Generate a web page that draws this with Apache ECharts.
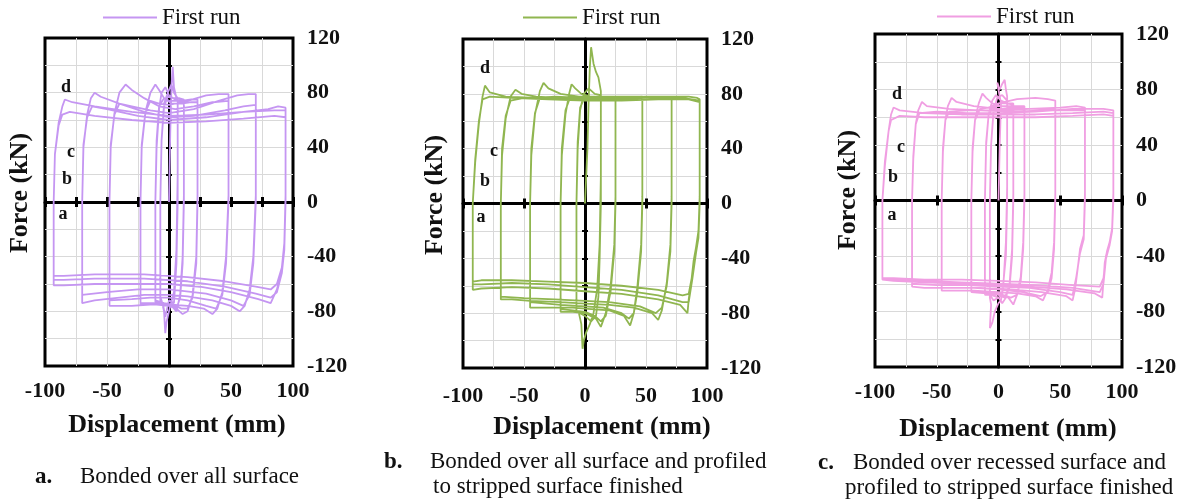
<!DOCTYPE html>
<html>
<head>
<meta charset="utf-8">
<script src="https://cdn.jsdelivr.net/npm/echarts@6/dist/echarts.min.js"></script>
<style>
html,body{margin:0;padding:0;background:#fff;}
#main{width:1182px;height:503px;}
</style>
</head>
<body>
<div id="main"></div>
<script>
// displacement (mm), force (kN) - one array per amplitude step
var runA = [
    // centre
    [[0,0],[1,50],[2,85],[3,99],[4,84],[6,76],[7,74],[7,20],[6,-35],[4,-66],[1,-76],[-2,-88],[-3,-96],[-4,-80],[-6,-72],[-7,-70],[-7,0],[-6,45],[-4,72],[-1,80],[2,86],[4,80],[7,76],[7,0],[6,-45],[4,-74],[0,-72],[-3,-84],[-5,-74],[-7,-72],[-7,0]],
    // 12 mm
    [[-6,45],[-4,70],[-1,77],[4,76],[8,76],[12,75],[12,5],[11,-40],[9,-68],[6,-80],[3,-77],[0,-75],[-6,-74],[-11,-73],[-11,0],[-10,40],[-8,68],[-6,80],[-3,84],[0,78],[5,75],[12,74],[12,0],[11,-45],[9,-70],[6,-78],[2,-75],[-4,-74],[-11,-72],[-11,0],[-10,45],[-8,70],[-4,76]],
    // 23 mm
    [[0,74],[10,74],[18,75],[23,75],[23,5],[22,-40],[19,-68],[15,-80],[11,-82],[6,-78],[0,-76],[-10,-75],[-18,-75],[-23,-75],[-23,0],[-22,40],[-19,66],[-15,80],[-11,86],[-8,82],[-4,76],[2,72],[10,72],[18,73],[23,73],[23,0],[22,-45],[19,-70],[15,-78],[10,-78],[3,-75],[-8,-74],[-17,-74],[-23,-74],[-23,0],[-22,42],[-19,66],[-15,74],[-8,72]],
    // 48 mm
    [[0,71],[15,74],[30,78],[40,79],[48,79],[48,5],[46,-40],[43,-66],[39,-78],[35,-82],[28,-78],[15,-76],[0,-75],[-15,-75],[-30,-76],[-42,-76],[-48,-76],[-48,0],[-47,40],[-44,65],[-40,80],[-35,86],[-30,82],[-20,76],[-8,70],[5,68],[20,70],[35,73],[48,74],[48,0],[46,-45],[43,-68],[38,-78],[30,-76],[15,-72],[0,-70],[-15,-70],[-30,-71],[-48,-72],[-48,0],[-47,42],[-44,64],[-40,72],[-30,70],[-15,67]],
    // 70 mm
    [[0,65],[20,68],[40,74],[55,78],[64,79],[70,79],[70,5],[68,-40],[65,-64],[61,-76],[57,-80],[50,-76],[35,-72],[15,-69],[0,-68],[-20,-68],[-40,-70],[-60,-72],[-70,-74],[-70,0],[-69,40],[-66,64],[-63,76],[-60,80],[-55,77],[-40,72],[-20,66],[0,62],[20,63],[45,67],[60,70],[70,71],[70,0],[68,-45],[65,-68],[60,-76],[50,-72],[30,-67],[0,-64],[-25,-64],[-50,-66],[-70,-68],[-70,0],[-69,42],[-66,62],[-62,70],[-50,68],[-25,63]],
    // 93 mm
    [[0,60],[30,62],[60,66],[80,68],[88,70],[94,69],[94,5],[93,-30],[91,-50],[87,-64],[82,-74],[72,-71],[50,-66],[25,-62],[0,-60],[-30,-60],[-60,-60],[-85,-61],[-93,-61],[-93,0],[-92,35],[-89,58],[-86,70],[-84,75],[-78,73],[-60,70],[-30,66],[0,63],[30,64],[60,66],[85,67],[94,67],[94,0],[93,-35],[91,-52],[87,-66],[82,-70],[70,-67],[45,-62],[15,-58],[-20,-56],[-60,-56],[-85,-57],[-93,-57],[-93,0],[-92,35],[-89,56],[-86,64],[-80,66],[-60,63],[-30,60],[0,58],[30,59],[60,61],[85,63],[94,62],[94,0],[93,-30],[91,-48],[87,-60],[82,-64],[70,-62],[45,-58],[15,-55],[-20,-53],[-60,-53],[-85,-54],[-93,-54],[-93,0]]
];

var runB = [
    [[0,0],[2,40],[3,75],[4,100],[5,114],[7,102],[9,96],[11,92],[13,82],[13,20],[12,-30],[10,-62],[7,-80],[4,-88],[1,-94],[-1,-100],[-2,-106],[-3,-88],[-5,-80],[-7,-78],[-7,0],[-6,40],[-4,68],[-1,80],[3,84],[8,80],[13,79],[13,0],[12,-40],[11,-68],[9,-82],[5,-86],[0,-82],[-4,-80],[-7,-79],[-7,0],[-6,45],[-4,70],[0,78]],
    [[8,78],[16,78],[25,78],[25,5],[24,-30],[21,-60],[17,-80],[13,-90],[9,-84],[0,-80],[-10,-79],[-20,-79],[-20,0],[-19,35],[-16,65],[-13,80],[-11,87],[-8,84],[-3,80],[5,78],[15,77],[25,77],[25,0],[24,-35],[21,-64],[17,-82],[13,-86],[8,-82],[0,-79],[-10,-78],[-20,-77],[-20,0],[-19,40],[-16,68],[-12,78],[-5,78]],
    [[5,78],[20,78],[35,78],[47,78],[47,5],[46,-30],[43,-60],[40,-80],[37,-89],[32,-82],[20,-78],[5,-77],[-10,-76],[-30,-76],[-45,-76],[-45,0],[-44,35],[-41,65],[-37,82],[-34,88],[-30,84],[-20,80],[-5,78],[10,77],[30,77],[47,77],[47,0],[46,-35],[43,-64],[40,-80],[36,-84],[30,-80],[15,-76],[0,-75],[-20,-74],[-45,-72],[-45,0],[-44,40],[-41,66],[-37,77],[-25,78]],
    [[0,77],[25,77],[50,78],[65,78],[71,78],[71,5],[70,-30],[67,-58],[63,-78],[60,-85],[55,-80],[40,-76],[20,-74],[0,-73],[-20,-72],[-45,-71],[-60,-70],[-69,-70],[-69,0],[-68,35],[-65,62],[-61,78],[-57,83],[-52,80],[-40,78],[-20,77],[0,76],[25,76],[50,77],[71,77],[71,0],[70,-35],[67,-60],[63,-76],[58,-80],[45,-75],[20,-72],[0,-71],[-25,-70],[-50,-69],[-69,-68],[-69,0],[-68,40],[-65,64],[-61,75],[-50,77],[-25,76]],
    [[0,76],[30,77],[60,78],[85,78],[92,77],[94,76],[94,5],[93,-20],[91,-32],[89,-42],[87,-58],[85,-70],[84,-80],[78,-74],[60,-70],[30,-66],[0,-64],[-30,-62],[-60,-61],[-85,-62],[-92,-63],[-92,0],[-90,30],[-87,58],[-84,78],[-82,86],[-78,81],[-65,78],[-40,77],[-10,76],[20,76],[50,77],[80,77],[94,75],[94,0],[93,-25],[91,-36],[88,-55],[85,-72],[80,-72],[60,-67],[30,-63],[0,-61],[-30,-59],[-60,-58],[-85,-59],[-92,-59],[-92,0],[-90,32],[-87,60],[-84,76],[-78,78],[-60,77],[-30,76],[0,75],[30,75],[60,76],[85,76],[94,74],[94,0],[93,-22],[91,-34],[88,-52],[85,-66],[80,-67],[60,-63],[30,-60],[0,-58],[-30,-57],[-60,-56],[-85,-56],[-92,-57],[-92,0]]
];

var runC = [
    [[0,0],[1,40],[2,70],[-1,85],[1,80],[3,84],[5,87],[6,80],[7,75],[7,10],[6,-30],[4,-60],[2,-72],[0,-74],[-3,-80],[-5,-88],[-7,-92],[-6,-75],[-7,-70],[-7,0],[-6,40],[-4,65],[-1,74],[3,76],[7,72],[7,0],[6,-40],[3,-68],[0,-70],[-4,-72],[-7,-68],[-7,0]],
    [[-6,40],[-4,64],[0,70],[5,70],[12,70],[12,5],[11,-35],[9,-60],[6,-70],[3,-74],[0,-70],[-6,-68],[-11,-68],[-11,0],[-10,40],[-8,62],[-5,72],[-2,76],[2,72],[7,70],[12,69],[12,0],[11,-40],[9,-62],[5,-70],[0,-68],[-6,-67],[-11,-66],[-11,0],[-10,42],[-8,62],[-4,68]],
    [[2,68],[12,68],[21,68],[21,5],[20,-30],[18,-55],[15,-68],[12,-75],[8,-70],[0,-68],[-10,-67],[-22,-66],[-22,0],[-21,35],[-19,58],[-16,70],[-13,77],[-10,74],[-5,70],[2,68],[12,67],[21,67],[21,0],[20,-35],[18,-58],[15,-68],[10,-70],[0,-67],[-10,-66],[-22,-65],[-22,0],[-21,38],[-19,58],[-15,66],[-8,67]],
    [[0,70],[15,73],[30,74],[40,73],[46,72],[46,5],[45,-30],[43,-52],[40,-64],[36,-72],[30,-69],[15,-67],[0,-66],[-20,-65],[-38,-65],[-46,-65],[-46,0],[-45,35],[-43,58],[-41,68],[-38,74],[-34,71],[-20,68],[0,66],[20,66],[35,66],[46,66],[46,0],[45,-35],[43,-56],[40,-66],[34,-69],[20,-66],[0,-64],[-20,-63],[-46,-63],[-46,0],[-45,38],[-43,58],[-40,64],[-25,65]],
    [[0,65],[25,66],[50,67],[63,68],[70,67],[70,5],[69,-25],[66,-35],[64,-50],[62,-64],[60,-72],[55,-69],[35,-66],[10,-64],[-15,-63],[-40,-63],[-60,-63],[-70,-62],[-70,0],[-69,30],[-67,55],[-65,65],[-62,71],[-58,68],[-40,66],[-15,65],[10,64],[40,65],[70,65],[70,0],[69,-28],[66,-38],[63,-55],[60,-68],[50,-66],[25,-63],[0,-62],[-25,-61],[-50,-61],[-70,-60],[-70,0],[-69,32],[-67,55],[-64,63],[-50,64],[-25,63]],
    [[0,63],[30,64],[60,66],[85,66],[93,65],[93,5],[92,-20],[90,-30],[88,-36],[86,-45],[85,-58],[84,-70],[78,-67],[55,-64],[25,-62],[0,-61],[-30,-60],[-60,-59],[-85,-58],[-94,-57],[-94,0],[-92,25],[-89,50],[-87,62],[-85,67],[-80,65],[-60,63],[-30,62],[0,62],[30,62],[60,63],[85,64],[93,63],[93,0],[92,-22],[90,-32],[87,-42],[85,-60],[82,-66],[60,-63],[30,-61],[0,-60],[-30,-59],[-60,-58],[-85,-57],[-94,-56],[-94,0],[-92,28],[-89,50],[-87,58],[-80,61],[-60,60],[-30,60],[0,60],[30,60],[60,61],[85,62],[93,61],[93,0],[92,-20],[90,-30],[87,-40],[85,-56],[82,-62],[60,-61],[30,-59],[0,-58],[-30,-57],[-60,-57],[-85,-56],[-94,-56],[-94,0]]
];

// tick labels that are printed
var xTickLabels = [-100, -50, 0, 50, 100];
var yTickLabels = [-120, -80, -40, 0, 40, 80, 120];

var FONT = '"Liberation Serif", "Times New Roman", serif';
var INK = '#111';

// layout of the three plots
var panels = [
    {name: 'Run A', run: runA, color: '#c596f2', box: [45, 38, 248, 328], zeroStep: 25, labelGap: 14,
        xTitle: [177, 425], yTitle: [20, 193], legend: [103, 6],
        marks: [['d', 66, 87], ['c', 71, 152], ['b', 67, 179], ['a', 63, 214]],
        caption: [['a.', 35, 477, true], ['Bonded over all surface', 80, 477, false]]},
    {name: 'Run B', run: runB, color: '#90b650', box: [463, 39, 244, 329], zeroStep: 50, labelGap: 17,
        xTitle: [602, 427], yTitle: [435, 195], legend: [523, 6],
        marks: [['d', 485, 68], ['c', 494, 151], ['b', 485, 181], ['a', 481, 217]],
        caption: [['b.', 384, 462, true], ['Bonded over all surface and profiled', 430, 462, false], ['to stripped surface finished', 433, 487, false]]},
    {name: 'Run C', run: runC, color: '#f09ee2', box: [875, 34, 247, 333], zeroStep: 50, labelGap: 14,
        xTitle: [1008, 429], yTitle: [848, 190], legend: [937, 5],
        marks: [['d', 897, 94], ['c', 901, 147], ['b', 893, 177], ['a', 892, 215]],
        caption: [['c.', 818, 463, true], ['Bonded over recessed surface and', 853, 463, false], ['profiled to stripped surface finished', 845, 488, false]]}
];

function flatten(cycles) {
    var out = [];
    for (var i = 0; i < cycles.length; i++) {
        out = out.concat(cycles[i]);
    }
    return out;
}

var grids = [], xAxes = [], yAxes = [], series = [], legends = [], graphics = [];
var gridLine = {lineStyle: {color: '#d9d9d9', width: 1}, showMinLine: false, showMaxLine: false};
var tickFont = {fontFamily: FONT, fontSize: 22, fontWeight: 'bold', color: INK};

panels.forEach(function (p, i) {
    grids.push({
        left: p.box[0], top: p.box[1], width: p.box[2], height: p.box[3],
        show: true, borderColor: '#000', borderWidth: 3, backgroundColor: 'transparent',
        containLabel: false, outerBoundsMode: 'none'
    });
    var base = i * 3;
    // x: printed labels at the bottom, then the black zero line with crossing ticks
    xAxes.push({
        gridIndex: i, type: 'value', min: -100, max: 100, interval: 25, position: 'bottom',
        axisLine: {show: false, onZero: false}, axisTick: {show: false},
        axisLabel: Object.assign({margin: p.labelGap, formatter: function (v) {
            return xTickLabels.indexOf(v) >= 0 ? String(v) : '';
        }}, tickFont),
        splitLine: gridLine
    });
    [false, true].forEach(function (inside, k) {
        xAxes.push({
            gridIndex: i, type: 'value', min: -100, max: 100, interval: p.zeroStep,
            axisLine: {show: k === 0, onZero: true, onZeroAxisIndex: base, lineStyle: {color: '#000', width: 3}},
            axisTick: {show: true, inside: inside, length: 5, lineStyle: {color: '#000', width: 3}},
            axisLabel: {show: false}, splitLine: {show: false}
        });
    });
    yAxes.push({
        gridIndex: i, type: 'value', min: -120, max: 120, interval: 20, position: 'right',
        axisLine: {show: false, onZero: false}, axisTick: {show: false},
        axisLabel: Object.assign({margin: 14, formatter: function (v) {
            return yTickLabels.indexOf(v) >= 0 ? String(v) : '';
        }}, tickFont),
        splitLine: gridLine
    });
    [false, true].forEach(function (inside, k) {
        yAxes.push({
            gridIndex: i, type: 'value', min: -120, max: 120, interval: 20, position: 'left',
            axisLine: {show: k === 0, onZero: true, onZeroAxisIndex: base, lineStyle: {color: '#000', width: 3}},
            axisTick: {show: true, inside: inside, length: 3, lineStyle: {color: '#000', width: 2}},
            axisLabel: {show: false}, splitLine: {show: false}
        });
    });
    series.push({
        name: p.name, type: 'line', xAxisIndex: base, yAxisIndex: base,
        data: flatten(p.run), symbol: 'none', showSymbol: false, smooth: false,
        lineStyle: {color: p.color, width: 1.8}, itemStyle: {color: p.color}, z: 3
    });
    // each plot has its own key, all reading "First run"
    legends.push({
        data: [p.name], left: p.legend[0], top: p.legend[1], padding: 0,
        icon: 'rect', itemWidth: 54, itemHeight: 2, selectedMode: false,
        formatter: function () { return 'First run'; },
        textStyle: {fontFamily: FONT, fontSize: 23, color: INK}
    });
    graphics.push({
        type: 'text', x: p.xTitle[0], y: p.xTitle[1],
        style: {text: 'Displacement (mm)', font: 'bold 26px ' + FONT, fill: INK, align: 'center', verticalAlign: 'middle'}
    });
    graphics.push({
        type: 'text', x: p.yTitle[0], y: p.yTitle[1], rotation: Math.PI / 2,
        style: {text: 'Force (kN)', font: 'bold 26px ' + FONT, fill: INK, align: 'center', verticalAlign: 'middle'}
    });
    p.marks.forEach(function (m) {
        graphics.push({
            type: 'text', x: m[1], y: m[2], z: 10,
            style: {text: m[0], font: 'bold 18px ' + FONT, fill: INK, align: 'center', verticalAlign: 'middle'}
        });
    });
    p.caption.forEach(function (c) {
        graphics.push({
            type: 'text', x: c[1], y: c[2],
            style: {text: c[0], font: (c[3] ? 'bold ' : '') + '23px ' + FONT, fill: INK, verticalAlign: 'middle'}
        });
    });
});

var chart = echarts.init(document.getElementById('main'), null, {renderer: 'canvas'});
chart.setOption({
    animation: false,
    backgroundColor: '#fff',
    textStyle: {fontFamily: FONT},
    grid: grids,
    xAxis: xAxes,
    yAxis: yAxes,
    legend: legends,
    series: series,
    graphic: graphics
});
</script>
</body>
</html>
